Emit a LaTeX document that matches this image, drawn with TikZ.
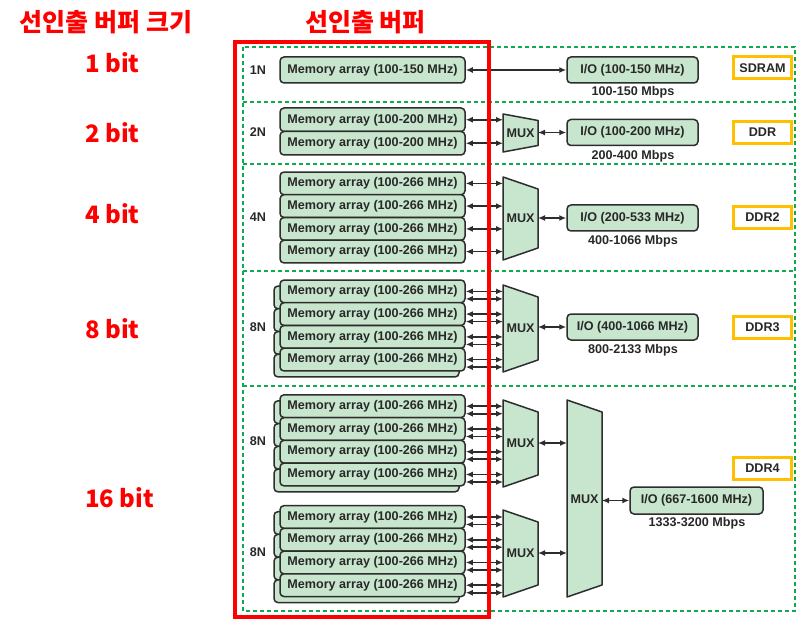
\documentclass[tikz,border=0pt]{standalone}
\usepackage{fontspec}
\setmainfont{Liberation Sans}
\newfontfamily\kr{Noto Sans CJK KR}
\usetikzlibrary{arrows.meta}
\definecolor{boxfill}{RGB}{200,230,205}
\definecolor{boxline}{RGB}{45,45,45}
\definecolor{dotgreen}{RGB}{15,170,80}
\definecolor{amber}{RGB}{255,192,0}
\definecolor{txt}{RGB}{40,40,40}
\begin{document}
\begin{tikzpicture}[x=1pt,y=-1pt,
  dfont/.style={font=\fontsize{12.6}{14}\selectfont\bfseries, text=txt},
  mem/.style={draw=boxline, fill=boxfill, line width=1.5pt, rounded corners=4pt,
    minimum width=185pt, minimum height=22.75pt, inner sep=0pt, dfont},
  io/.style={mem, minimum width=131pt, minimum height=26pt},
  tag/.style={draw=amber, line width=3pt, minimum width=58pt, minimum height=22pt, inner sep=0pt, dfont},
  lab/.style={dfont, inner sep=0pt},
  dar/.style={{Latex[length=7pt,width=6pt]}-{Latex[length=7pt,width=6pt]}, line width=1.7pt, draw=boxline},
  muxs/.style={draw=boxline, fill=boxfill, line width=1.5pt, line join=round},
  dotline/.style={draw=dotgreen, line width=2.2pt, dash pattern=on 4pt off 3pt},
  redt/.style={text=red, font=\kr\fontsize{24}{28}\selectfont\bfseries, inner sep=0pt}]
\useasboundingbox[fill=white] (0,0) rectangle (800,620);

% green dotted frame
\draw[dotline] (243,47) rectangle (795,611);
\foreach \yy in {102,164,271,386} \draw[dotline] (243,\yy) -- (795,\yy);

% ---------- 1N / SDRAM
\node[lab] (n1) at (258,70) {1N};
\node[mem, minimum height=26pt] (m1) at (372.5,70) {Memory array (100-150 MHz)};
\node[io] (io1) at (632.5,70) {I/O (100-150 MHz)};
\node[lab] (r1) at (633,92) {100-150 Mbps};
\node[tag] (t1) at (762.5,68) {SDRAM};
\draw[dar] (m1.east) -- (io1.west);

% ---------- 2N / DDR
\node[lab] (n2) at (258,132) {2N};
\node[mem, minimum height=23.5pt] (m21) at (372.5,119.75) {Memory array (100-200 MHz)};
\node[mem, minimum height=23.5pt] (m22) at (372.5,143.25) {Memory array (100-200 MHz)};
\draw[muxs] (503,114) -- (538,120.5) -- (538,145.5) -- (503,152) -- cycle;
\node[lab] (x2) at (520.5,133) {MUX};
\coordinate (x2in) at (503,133);
\coordinate (x2out) at (538,133);
\node[io] (io2) at (632.5,132.5) {I/O (100-200 MHz)};
\node[lab] (r2) at (633,156) {200-400 Mbps};
\node[tag] (t2) at (762.5,132.5) {DDR};
\foreach \m in {m21,m22} \draw[dar] (\m.east) -- (\m.east -| x2in);
\draw[dar] (x2out |- io2.west) -- (io2.west);

% ---------- 4N / DDR2
\node[lab] (n4) at (258,217) {4N};
\foreach \i/\yy in {1/183.4,2/206.1,3/228.9,4/251.6}
  \node[mem] (m4\i) at (372.5,\yy) {Memory array (100-266 MHz)};
\draw[muxs] (503,177) -- (538,189) -- (538,248) -- (503,260) -- cycle;
\node[lab] (x4) at (520.5,218.5) {MUX};
\coordinate (x4in) at (503,218);
\coordinate (x4out) at (538,218);
\node[io] (io4) at (632.5,218) {I/O (200-533 MHz)};
\node[lab] (r4) at (633,241) {400-1066 Mbps};
\node[tag] (t4) at (762.5,217.5) {DDR2};
\foreach \i in {1,2,3,4} \draw[dar] (m4\i.east) -- (m4\i.east -| x4in);
\draw[dar] (x4out |- io4.west) -- (io4.west);

% ---------- 8N / DDR3
\node[lab] (n8) at (258,327) {8N};
\foreach \i/\yy in {1/291.4,2/314.1,3/336.9,4/359.6}
  \node[mem] (b8\i) at (366.5,\yy+6) {};
\foreach \i/\yy in {1/291.4,2/314.1,3/336.9,4/359.6}
  \node[mem] (m8\i) at (372.5,\yy) {Memory array (100-266 MHz)};
\draw[muxs] (503,285) -- (538,297) -- (538,360) -- (503,372) -- cycle;
\node[lab] (x8) at (520.5,328) {MUX};
\coordinate (x8in) at (503,328);
\coordinate (x8out) at (538,328);
\node[io] (io8) at (632.5,327) {I/O (400-1066 MHz)};
\node[lab] (r8) at (633,350) {800-2133 Mbps};
\node[tag] (t8) at (762.5,327) {DDR3};
\foreach \i in {1,2,3,4} {
  \draw[dar] (m8\i.east) -- (m8\i.east -| x8in);
  \draw[dar] ([yshift=-7.5pt]m8\i.east) -- ([yshift=-7.5pt]m8\i.east -| x8in);
}
\draw[dar] (x8out |- io8.west) -- (io8.west);

% ---------- 16 / DDR4 (upper 8N)
\node[lab] (na) at (258,441) {8N};
\foreach \i/\yy in {1/406.2,2/429,3/451.7,4/474.5}
  \node[mem] (ba\i) at (366.5,\yy+6) {};
\foreach \i/\yy in {1/406.2,2/429,3/451.7,4/474.5}
  \node[mem] (ma\i) at (372.5,\yy) {Memory array (100-266 MHz)};
\draw[muxs] (503,400) -- (538,412) -- (538,475) -- (503,487) -- cycle;
\node[lab] (xa) at (520.5,443) {MUX};
\coordinate (xain) at (503,443);
\coordinate (xaout) at (538,443);
\foreach \i in {1,2,3,4} {
  \draw[dar] (ma\i.east) -- (ma\i.east -| xain);
  \draw[dar] ([yshift=-7.5pt]ma\i.east) -- ([yshift=-7.5pt]ma\i.east -| xain);
}

% ---------- lower 8N
\node[lab] (nb) at (258,552) {8N};
\foreach \i/\yy in {1/517,2/539.7,3/562.5,4/585.2}
  \node[mem] (bb\i) at (366.5,\yy+6) {};
\foreach \i/\yy in {1/517,2/539.7,3/562.5,4/585.2}
  \node[mem] (mb\i) at (372.5,\yy) {Memory array (100-266 MHz)};
\draw[muxs] (503,510) -- (538,522) -- (538,585) -- (503,597) -- cycle;
\node[lab] (xb) at (520.5,553) {MUX};
\coordinate (xbin) at (503,553);
\coordinate (xbout) at (538,553);
\foreach \i in {1,2,3,4} {
  \draw[dar] (mb\i.east) -- (mb\i.east -| xbin);
  \draw[dar] ([yshift=-7.5pt]mb\i.east) -- ([yshift=-7.5pt]mb\i.east -| xbin);
}

% big MUX
\draw[muxs] (567,400) -- (602,412) -- (602,585) -- (567,597) -- cycle;
\node[lab] (xc) at (584.5,499) {MUX};
\coordinate (xcinA) at (567,443);
\coordinate (xcinB) at (567,553);
\coordinate (xcout) at (602,500.5);
\draw[dar] (xaout) -- (xcinA);
\draw[dar] (xbout) -- (xcinB);
\node[io, minimum width=133pt, minimum height=27pt] (io16) at (696.5,500.5) {I/O (667-1600 MHz)};
\node[lab] (r16) at (697,523) {1333-3200 Mbps};
\node[tag] (t16) at (762.5,468) {DDR4};
\draw[dar] (xcout) -- (io16.west);

% red frame and labels
\draw[red, line width=3.5pt] (235,42) rectangle (489,617);
\node[redt, font=\kr\fontsize{25}{28}\selectfont\bfseries] (h1) at (106,22) {선인출 버퍼 크기};
\node[redt, font=\kr\fontsize{25}{28}\selectfont\bfseries] (h2) at (365.5,22) {선인출 버퍼};
\node[redt, anchor=west] (b1) at (85,63) {1 bit};
\node[redt, anchor=west] (b2) at (85,133) {2 bit};
\node[redt, anchor=west] (b4) at (85,214) {4 bit};
\node[redt, anchor=west] (b8) at (85,329) {8 bit};
\node[redt, anchor=west] (b16) at (85,498) {16 bit};
\end{tikzpicture}
\end{document}
